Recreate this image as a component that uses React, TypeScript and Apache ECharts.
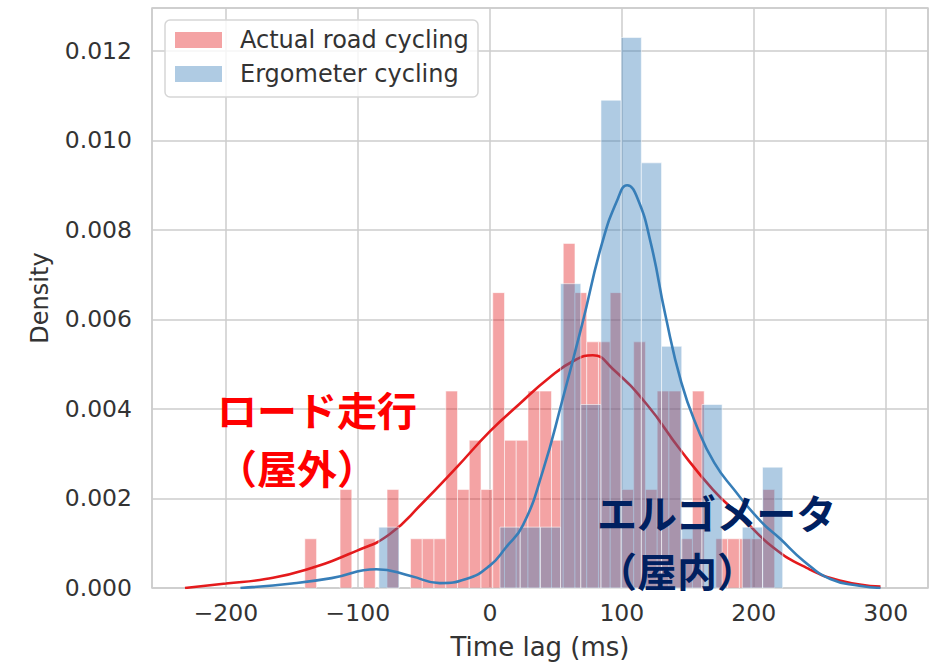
import React, { useEffect, useRef } from "react";
import * as echarts from "echarts";

// ---- data ----
const roadName = "Actual road cycling";
const ergoName = "Ergometer cycling";

// histogram bins (ms) and densities
const roadBinStart = -140.2;
const roadBinWidth = 8.9;
const roadDensity = [
  0.0011, 0, 0, 0.0022, 0, 0.0011, 0, 0.0022, 0, 0.0011,
  0.0011, 0.0011, 0.0044, 0.0022, 0.0033, 0.0022, 0.0066, 0.0033, 0.0033, 0.0044,
  0.0044, 0.0033, 0.0077, 0.0066, 0.0055, 0.0055, 0.0066, 0.0022, 0.0055, 0.0022,
  0.0044, 0.0044, 0.0011, 0.0044, 0, 0.0011, 0.0011, 0.0011, 0.0011, 0.0022,
];

const ergoBinStart = -84.1;
const ergoBinWidth = 15.3;
const ergoDensity = [
  0.00136, 0, 0, 0, 0, 0, 0.00136, 0.00136, 0.00136, 0.0068,
  0.0041, 0.0109, 0.0123, 0.0095, 0.0054, 0.00136, 0.0041, 0, 0.00136, 0.0027,
];

// KDE curves
const roadKdeX = [-231, -200, -170, -140, -101, -76, -51, -25, 0, 22, 45, 65, 78, 93, 119, 144, 169, 190, 215, 240, 265, 296];
const roadKdeY = [0, 0.0001, 0.0002, 0.0004, 0.00083, 0.0012, 0.0019, 0.0027, 0.0035, 0.0041, 0.0047, 0.0051, 0.0052, 0.0049, 0.0041, 0.0031, 0.0022, 0.0016, 0.0009, 0.00045, 0.00017, 0.00003];

const ergoKdeX = [-189, -150, -120, -86, -60, -38, -18, 0, 12, 25, 40, 55, 70, 85, 97, 104, 112, 122, 133, 145, 157, 170, 185, 205, 220, 238, 258, 280, 296];
const ergoKdeY = [0, 0.0001, 0.00022, 0.00042, 0.00027, 0.00011, 0.0002, 0.0005, 0.0009, 0.0014, 0.0026, 0.0042, 0.0059, 0.0077, 0.0087, 0.009, 0.0087, 0.0077, 0.0061, 0.0046, 0.0036, 0.0028, 0.0022, 0.0015, 0.0011, 0.0006, 0.0002, 0.00005, 0];

const xMin = -256;
const xMax = 332;
const yMax = 0.01296;
const yInterval = 0.002;

const xTitle = "Time lag (ms)";
const yTitle = "Density";

const roadNote = "ロード走行\n（屋外）";
const ergoNote = "エルゴメータ\n（屋内）";

const RED = "#e41a1c";
const BLUE = "#377eb8";
const RED_FILL = "rgba(228,26,28,0.4)";
const BLUE_FILL = "rgba(55,126,184,0.4)";
const FONT = "'DejaVu Sans', sans-serif";
const CJK = "'Noto Sans CJK JP', sans-serif";
const TXT = "#333333";

function bins(start: number, width: number, dens: number[]) {
  const out: number[][] = [];
  dens.forEach((d, i) => {
    if (d > 0) out.push([start + i * width, start + (i + 1) * width, d]);
  });
  return out;
}

function histRender(fill: string) {
  return (params: any, api: any) => {
    const x0 = api.value(0);
    const x1 = api.value(1);
    const h = api.value(2);
    const p0 = api.coord([x0, h]);
    const p1 = api.coord([x1, 0]);
    return {
      type: "rect",
      shape: { x: p0[0], y: p0[1], width: p1[0] - p0[0], height: p1[1] - p0[1] },
      style: { fill, stroke: "rgba(255,255,255,0.55)", lineWidth: 1 },
    };
  };
}

export default function App() {
  const ref = useRef<HTMLDivElement>(null);
  useEffect(() => {
    if (!ref.current) return;
    const chart = echarts.init(ref.current, undefined, { renderer: "svg" });
    const fmtX = (v: number) => (v < 0 ? "\u2212" + Math.abs(v) : String(v));
    chart.setOption({
      animation: false,
      backgroundColor: "#ffffff",
      grid: {
        left: 152,
        top: 8,
        right: 12,
        bottom: 80,
        show: true,
        borderColor: "#cccccc",
        borderWidth: 1.5,
        backgroundColor: "transparent",
      },
      xAxis: {
        type: "value",
        min: xMin,
        max: xMax,
        splitNumber: 5,
        name: xTitle,
        nameLocation: "middle",
        nameGap: 46,
        nameTextStyle: { fontFamily: FONT, fontSize: 26, color: TXT },
        axisLine: { show: false },
        axisTick: { show: false },
        axisLabel: {
          fontFamily: FONT,
          fontSize: 23.5,
          color: TXT,
          margin: 13,
          showMinLabel: false,
          showMaxLabel: false,
          formatter: fmtX,
        },
        splitLine: { show: true, lineStyle: { color: "#cccccc", width: 1.5 } },
      },
      yAxis: {
        type: "value",
        min: 0,
        max: yMax,
        interval: yInterval,
        name: yTitle,
        nameLocation: "middle",
        nameGap: 100,
        nameRotate: 90,
        nameTextStyle: { fontFamily: FONT, fontSize: 24, color: TXT },
        axisLine: { show: false },
        axisTick: { show: false },
        axisLabel: {
          fontFamily: FONT,
          fontSize: 23.5,
          color: TXT,
          margin: 20,
          showMaxLabel: false,
          formatter: (v: number) => v.toFixed(3),
        },
        splitLine: { show: true, lineStyle: { color: "#cccccc", width: 1.5 } },
      },
      series: [
        {
          name: roadName,
          type: "custom",
          renderItem: histRender(RED_FILL),
          encode: { x: [0, 1], y: 2 },
          data: bins(roadBinStart, roadBinWidth, roadDensity),
          z: 2,
        },
        {
          name: roadName + " KDE",
          type: "line",
          smooth: 0.5,
          symbol: "none",
          lineStyle: { color: RED, width: 2.6 },
          data: roadKdeX.map((x, i) => [x, roadKdeY[i]]),
          z: 3,
        },
        {
          name: ergoName,
          type: "custom",
          renderItem: histRender(BLUE_FILL),
          encode: { x: [0, 1], y: 2 },
          data: bins(ergoBinStart, ergoBinWidth, ergoDensity),
          z: 4,
        },
        {
          name: ergoName + " KDE",
          type: "line",
          smooth: 0.5,
          symbol: "none",
          lineStyle: { color: BLUE, width: 2.6 },
          data: ergoKdeX.map((x, i) => [x, ergoKdeY[i]]),
          z: 5,
        },
      ],
      graphic: [
        {
          type: "rect",
          z: 100,
          shape: { x: 165, y: 20, width: 313, height: 77, r: 5 },
          style: { fill: "rgba(255,255,255,0.8)", stroke: "#d6d6d6", lineWidth: 1.5 },
        },
        { type: "rect", z: 101, shape: { x: 175, y: 32, width: 47, height: 16 }, style: { fill: RED_FILL } },
        { type: "rect", z: 101, shape: { x: 175, y: 66, width: 47, height: 16 }, style: { fill: BLUE_FILL } },
        {
          type: "text",
          z: 101,
          x: 240,
          y: 40,
          style: { text: roadName, fontFamily: FONT, fontSize: 24, fill: TXT, verticalAlign: "middle" },
        },
        {
          type: "text",
          z: 101,
          x: 240,
          y: 74,
          style: { text: ergoName, fontFamily: FONT, fontSize: 24, fill: TXT, verticalAlign: "middle" },
        },
        {
          type: "text",
          z: 120,
          x: 217,
          y: 380,
          style: {
            text: roadNote,
            fontFamily: CJK,
            fontWeight: "bold",
            fontSize: 40,
            lineHeight: 58,
            fill: "#ff0000",
            verticalAlign: "top",
          },
        },
        {
          type: "text",
          z: 120,
          x: 597,
          y: 483,
          style: {
            text: ergoNote,
            fontFamily: CJK,
            fontWeight: "bold",
            fontSize: 40,
            lineHeight: 58,
            fill: "#002060",
            verticalAlign: "top",
          },
        },
      ],
    });
    return () => chart.dispose();
  }, []);
  return <div ref={ref} style={{ width: 940, height: 668, position: "absolute", left: 0, top: 0 }} />;
}
